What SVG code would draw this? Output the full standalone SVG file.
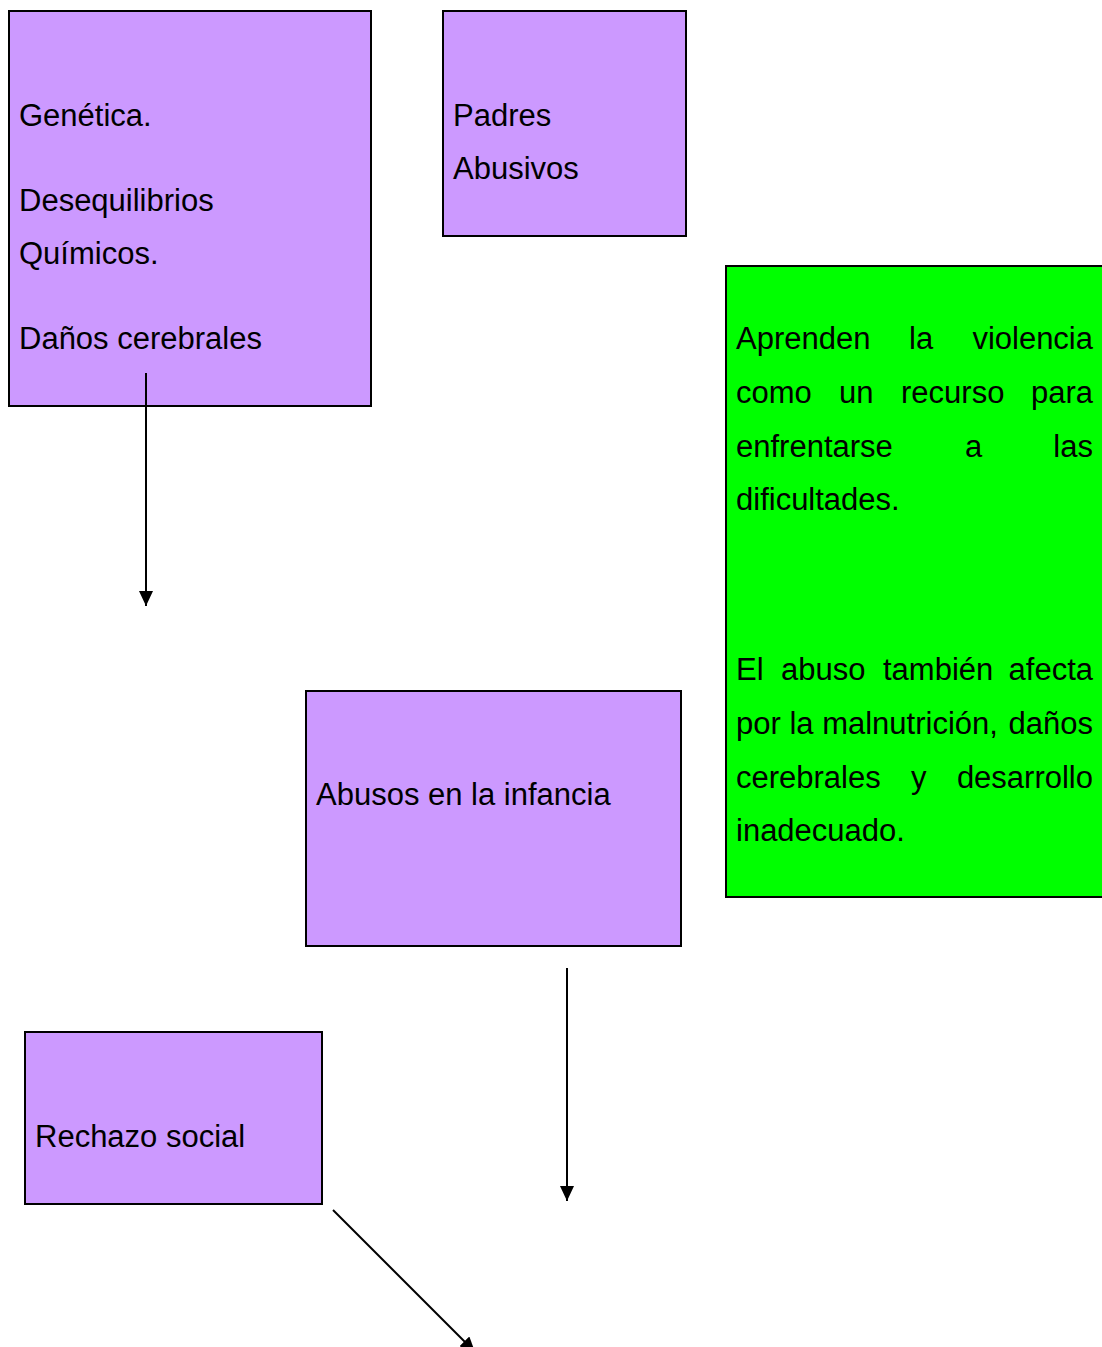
<svg xmlns="http://www.w3.org/2000/svg" width="1102" height="1347" viewBox="0 0 1102 1347">
<style>
.box{fill:#cc99ff;stroke:#000;stroke-width:2}
.green{fill:#00ff00;stroke:#000;stroke-width:2}
text{font-family:"Liberation Sans",Arial,sans-serif;font-size:31px;fill:#000}
.edge{stroke:#000;stroke-width:2;fill:none;marker-end:url(#arr)}
</style>
<defs>
<marker id="arr" markerWidth="15" markerHeight="14" refX="15" refY="7" orient="auto" markerUnits="userSpaceOnUse">
<path d="M0,0 L15,7 L0,14 Z" fill="#000"/>
</marker>
</defs>
<g id="n-causas">
<rect class="box" x="9" y="11" width="362" height="395"/>
<text x="19" y="126">Genética.</text>
<text x="19" y="211">Desequilibrios</text>
<text x="19" y="264">Químicos.</text>
<text x="19" y="349">Daños cerebrales</text>
</g>
<g id="n-padres">
<rect class="box" x="443" y="11" width="243" height="225"/>
<text x="453" y="126">Padres</text>
<text x="453" y="179">Abusivos</text>
</g>
<g id="n-aprenden">
<rect class="green" x="726" y="266" width="380" height="631"/>
<text x="736" y="349">Aprenden</text>
<text x="909" y="349">la</text>
<text x="1093" y="349" text-anchor="end">violencia</text>
<text x="736" y="403">como</text>
<text x="839" y="403">un</text>
<text x="901" y="403">recurso</text>
<text x="1093" y="403" text-anchor="end">para</text>
<text x="736" y="457">enfrentarse</text>
<text x="965" y="457">a</text>
<text x="1093" y="457" text-anchor="end">las</text>
<text x="736" y="510">dificultades.</text>
<text x="736" y="680">El</text>
<text x="781" y="680">abuso</text>
<text x="883" y="680">también</text>
<text x="1093" y="680" text-anchor="end">afecta</text>
<text x="736" y="734">por la malnutrición,</text>
<text x="1093" y="734" text-anchor="end">daños</text>
<text x="736" y="788">cerebrales</text>
<text x="911" y="788">y</text>
<text x="1093" y="788" text-anchor="end">desarrollo</text>
<text x="736" y="841">inadecuado.</text>
</g>
<g id="n-abusos">
<rect class="box" x="306" y="691" width="375" height="255"/>
<text x="316" y="805">Abusos en la infancia</text>
</g>
<g id="n-rechazo">
<rect class="box" x="25" y="1032" width="297" height="172"/>
<text x="35" y="1147">Rechazo social</text>
</g>
<g id="connectors">
<line class="edge" x1="146" y1="373" x2="146" y2="606"/>
<line class="edge" x1="567" y1="968" x2="567" y2="1201"/>
<line class="edge" x1="333" y1="1210" x2="475" y2="1352"/>
</g>
</svg>
